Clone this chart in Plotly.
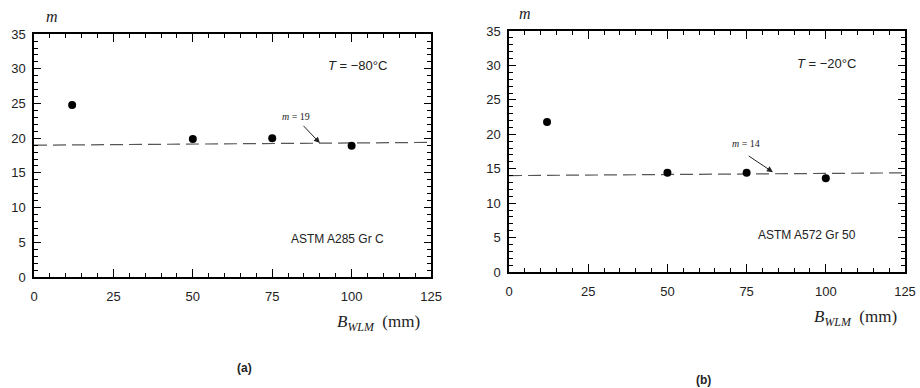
import plotly.graph_objects as go

# Data
x_a = [12, 50, 75, 100]
m_a = [24.8, 19.9, 20.0, 18.9]
fit_x_a = [0, 125]
fit_m_a = [19.0, 19.4]

x_b = [12, 50, 75, 100]
m_b = [21.8, 14.4, 14.4, 13.6]
fit_x_b = [0, 125]
fit_m_b = [14.0, 14.4]

x_ticks = [0, 25, 50, 75, 100, 125]
y_ticks = [0, 5, 10, 15, 20, 25, 30, 35]

fig = go.Figure()

def add_panel(xs, ms, fx, fm, xa, ya):
    fig.add_trace(go.Scatter(x=fx, y=fm, mode="lines", xaxis=xa, yaxis=ya,
                             line=dict(color="#555555", width=1.2, dash="13px,6px"),
                             showlegend=False, hoverinfo="skip"))
    fig.add_trace(go.Scatter(x=xs, y=ms, mode="markers", xaxis=xa, yaxis=ya,
                             marker=dict(color="black", size=8),
                             showlegend=False))

add_panel(x_a, m_a, fit_x_a, fit_m_a, "x", "y")
add_panel(x_b, m_b, fit_x_b, fit_m_b, "x2", "y2")

tickfont = dict(family="Liberation Sans, Arial, sans-serif", size=13, color="#222")

def xaxis(domain, anchor):
    return dict(domain=domain, anchor=anchor, range=[0, 125], tickvals=x_ticks,
                ticks="inside", ticklen=8, tickwidth=1, tickcolor="black",
                showline=True, linecolor="black", linewidth=1.5, mirror="ticks",
                showgrid=False, zeroline=False, tickfont=tickfont, automargin=False,
                ticklabelstandoff=7,
                minor=dict(dtick=5, ticks="inside", ticklen=4, tickcolor="black", tickwidth=1, showgrid=False))

def yaxis(domain, anchor):
    return dict(domain=domain, anchor=anchor, range=[0, 35], tickvals=y_ticks,
                ticks="inside", ticklen=7, tickwidth=1, tickcolor="black",
                showline=True, linecolor="black", linewidth=1.5, mirror="ticks",
                showgrid=False, zeroline=False, tickfont=tickfont, automargin=False,
                ticklabelstandoff=4,
                minor=dict(dtick=1, ticks="inside", ticklen=4, tickcolor="black", tickwidth=1, showgrid=False))

fig.update_layout(
    template="none",
    width=920, height=388,
    margin=dict(l=0, r=0, t=0, b=0, autoexpand=False),
    paper_bgcolor="white", plot_bgcolor="white",
    xaxis=xaxis([0.037, 0.4685], "y"),
    yaxis=yaxis([0.286, 0.912], "x"),
    xaxis2=xaxis([0.5533, 0.9837], "y2"),
    yaxis2=yaxis([0.299, 0.920], "x2"),
)

serif = "Liberation Serif, Times New Roman, serif"
sans = "Liberation Sans, Arial, sans-serif"

def paper_text(px, py, text, font):
    return dict(xref="paper", yref="paper", x=px/920, y=1-py/388, text=text, showarrow=False,
                xanchor="center", yanchor="middle", font=font)

xtitle = "<i>B</i><sub><i>WLM</i></sub>  (mm)"

ann = []
# Panel (a)
ann += [
    dict(xref="x", yref="y", x=101.7, y=30.5, text="<i>T</i> = \u221280\u00b0C", showarrow=False,
         font=dict(family=sans, size=13, color="#222")),
    dict(xref="x", yref="y", x=95.4, y=5.5, text="ASTM A285 Gr C", showarrow=False,
         font=dict(family=sans, size=12, color="#222")),
    dict(xref="x", yref="y", x=82.5, y=23.1, text="<i>m</i> = 19", showarrow=False,
         font=dict(family=serif, size=10, color="#222")),
    dict(xref="x", yref="y", axref="x", ayref="y", x=90, y=19.3, ax=84.4, ay=22.0, text="",
         showarrow=True, arrowhead=2, arrowsize=1.2, arrowwidth=1, arrowcolor="#222"),
    paper_text(52, 17, "<i>m</i>", dict(family=serif, size=16, color="#222")),
    paper_text(378, 323, xtitle, dict(family=serif, size=17, color="#222")),
    paper_text(244, 368, "<b>(a)</b>", dict(family=sans, size=12, color="#222")),
]
# Panel (b)
ann += [
    dict(xref="x2", yref="y2", x=100.3, y=30.3, text="<i>T</i> = \u221220\u00b0C", showarrow=False,
         font=dict(family=sans, size=13, color="#222")),
    dict(xref="x2", yref="y2", x=94, y=5.4, text="ASTM A572 Gr 50", showarrow=False,
         font=dict(family=sans, size=12, color="#222")),
    dict(xref="x2", yref="y2", x=74.8, y=18.6, text="<i>m</i> = 14", showarrow=False,
         font=dict(family=serif, size=10, color="#222")),
    dict(xref="x2", yref="y2", axref="x2", ayref="y2", x=83.3, y=14.5, ax=75.2, ay=17.0, text="",
         showarrow=True, arrowhead=2, arrowsize=1.2, arrowwidth=1, arrowcolor="#222"),
    paper_text(525, 14, "<i>m</i>", dict(family=serif, size=16, color="#222")),
    paper_text(855, 318, xtitle, dict(family=serif, size=17, color="#222")),
    paper_text(703, 380, "<b>(b)</b>", dict(family=sans, size=12, color="#222")),
]
fig.update_layout(annotations=ann)

fig.write_html("out.html")
